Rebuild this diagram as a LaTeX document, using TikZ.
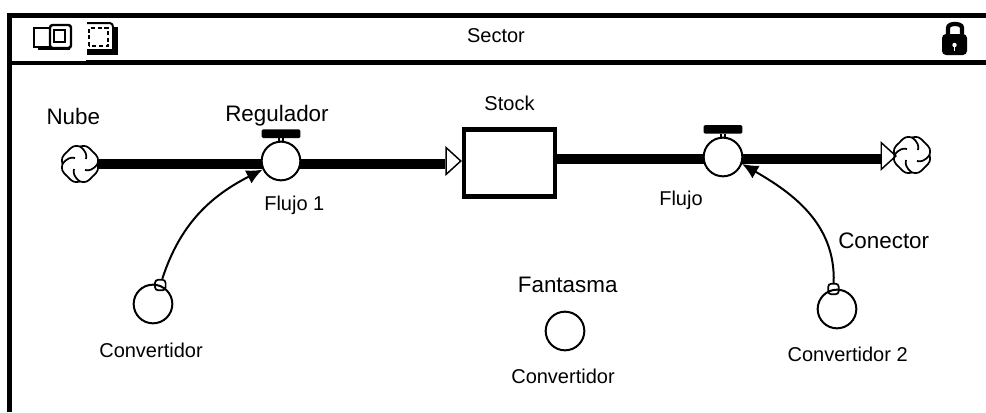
\documentclass[tikz,border=0pt]{standalone}
\usepackage{fontspec}
\setmainfont{Liberation Sans}
\usetikzlibrary{shapes.geometric, arrows.meta, positioning, backgrounds}

\begin{document}
\begin{tikzpicture}[x=0.75pt, y=0.75pt,
        small/.style={font=\fontsize{15}{18}\selectfont, inner sep=0pt},
        big/.style={font=\fontsize{16.8}{20}\selectfont, inner sep=0pt},
        stockbox/.style={rectangle, draw=black, fill=white, line width=3.4pt, minimum width=68pt, minimum height=50.6pt},
        circ/.style={circle, draw=black, fill=white, line width=1.5pt, minimum size=29pt, inner sep=0pt},
        loopnode/.style={rectangle, rounded corners=2.5pt, draw=black, line width=1.3pt, minimum size=8pt, inner sep=0pt},
        handlebar/.style={rectangle, fill=black, rounded corners=1pt, minimum width=29pt, minimum height=6.4pt, inner sep=0pt},
        head/.style={isosceles triangle, draw=black, fill=white, line width=1.1pt, isosceles triangle apex angle=85, isosceles triangle stretches, minimum width=20pt, minimum height=11pt, inner sep=0pt},
        cloudnode/.style={circle, minimum size=27pt, inner sep=0pt},
        pipe/.style={draw=black, line width=7.6pt},
        conn/.style={draw=black, line width=1.5pt, -{Latex[length=12pt,width=11pt]}},
        frameline/.style={draw=black, line width=3.4pt},
        cloudsym/.pic={
            \foreach \a in {0,90,180,270} {
                \draw[line width=1.3pt, rotate=\a] (17.5,0) .. controls (19,5) and (18,8) .. (12.5,12.5) .. controls (8,18) and (5,19) .. (0,17.5);
                \draw[line width=1.3pt, rotate=\a] (17.5,0) .. controls (13,-6) and (9,-7) .. (5,-6);
            }
        }]
        \useasboundingbox (0,0) rectangle (986,412);

        % frame and header
        \draw [frameline] (9.5,0) -- (9.5,396.5) -- (986,396.5);
        \draw [frameline] (9.5,349.5) -- (986,349.5);
        \fill [white] (11.5,351.3) rectangle (86,394.2);
        \node [small] (sector) at (496,376) {Sector};

        % header icons
        \draw [line width=1.8pt] (34,365) rectangle (51,384);
        \draw [line width=1.8pt, fill=white, rounded corners=2pt] (50,364) rectangle (71,387);
        \draw [line width=1.5pt] (54,370) rectangle (65,382);
        \draw [line width=1.8pt] (38,363.5) -- (70,363.5);
        \draw [line width=1.5pt] (87,389) -- (110,389) to[out=0,in=90] (113,385) -- (113,362) -- (87,362);
        \draw [line width=2.5pt] (116,385) -- (116,359) -- (87,359);
        \draw [line width=1.2pt, dashed, dash pattern=on 3pt off 2pt] (89,366) rectangle (108,384);

        % lock
        \fill [black, rounded corners=3pt] (942,357) rectangle (967,378);
        \draw [line width=3.2pt] (948,376) -- (948,384) to[out=90,in=180] (955,388) to[out=0,in=90] (962,384) -- (962,376);
        \fill [white] (954.5,367) circle (2.2);
        \fill [white] (953.7,361) rectangle (955.3,368);

        % stock and flows
        \node [stockbox] (stock) at (509.5,249) {};
        \node [small, above=11.75pt of stock] (stocklbl) {Stock};
        \node [circ] (valveA) at (281,251) {};
        \node [circ] (valveB) at (723,255) {};
        \node [handlebar, above=1.8pt of valveA] (handleA) {};
        \node [handlebar, above=2pt of valveB] (handleB) {};
        \node [cloudnode] (cloudL) at (80,248) {};
        \node [cloudnode] (cloudR) at (912,257) {};
        \node [head, anchor=apex] (headL) at ([yshift=1.5pt]stock.west) {};
        \node [head, anchor=apex] (headR) at (897,256) {};
        \coordinate (pipeR) at (723,253);

        \begin{pgfonlayer}{background}
            \path [pipe] (cloudL.east) -- (headL.lower side |- cloudL.east);
            \path [pipe] (stock.east |- pipeR) -- (headR.lower side |- pipeR);
        \end{pgfonlayer}
        \draw [line width=1pt] ([xshift=-1.5pt]valveA.north) -- ([xshift=-1.5pt]handleA.south);
        \draw [line width=1pt] ([xshift=1.5pt]valveA.north) -- ([xshift=1.5pt]handleA.south);
        \draw [line width=1pt] ([xshift=-1.5pt]valveB.north) -- ([xshift=-1.5pt]handleB.south);
        \draw [line width=1pt] ([xshift=1.5pt]valveB.north) -- ([xshift=1.5pt]handleB.south);
        \pic at (cloudL) {cloudsym};
        \pic at (cloudR) {cloudsym};

        % converters
        \node [circ] (convA) at (153,108) {};
        \node [circ] (convB) at (837,103) {};
        \node [circ] (convC) at (565,81) {};
        \node [loopnode] (loopA) at (convA.69) {};
        \node [loopnode] (loopB) at (convB.100) {};
        \draw [conn] (loopA) to[out=72,in=207] (valveA.205);
        \draw [conn] (loopB) to[out=88,in=-30] (valveB.340);

        % labels
        \node [big, above=15.5pt of cloudL, xshift=-5pt] (nubelbl) {Nube};
        \node [big, above=2pt of handleA, xshift=-3pt] (regulbl) {Regulador};
        \node [small, below=11pt of valveA, xshift=10pt] (flujoA) {Flujo 1};
        \node [small, below=10pt of valveB, xshift=-31.5pt] (flujoB) {Flujo};
        \node [big, right=71pt of valveB, yshift=-63pt] (conelbl) {Conector};
        \node [big, above=13.5pt of convC, xshift=2pt] (fantlbl) {Fantasma};
        \node [small, below=14pt of convA, xshift=-1.5pt] (convAlbl) {Convertidor};
        \node [small, below=13pt of convC, xshift=-1.5pt] (convClbl) {Convertidor};
        \node [small, below=13pt of convB, xshift=8pt] (convBlbl) {Convertidor 2};
\end{tikzpicture}
\end{document}
